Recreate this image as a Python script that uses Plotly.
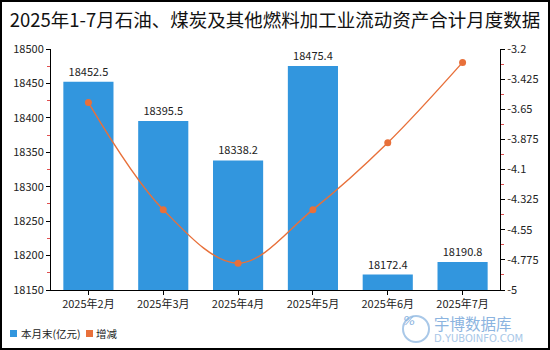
import plotly.graph_objects as go

# Monthly data: current month-end current assets and year-on-year change
months = ["2025年2月", "2025年3月", "2025年4月", "2025年5月", "2025年6月", "2025年7月"]
assets = [18452.5, 18395.5, 18338.2, 18475.4, 18172.4, 18190.8]
change = [-3.60, -4.40, -4.80, -4.40, -3.90, -3.30]

right_ticks = [-3.2, -3.425, -3.65, -3.875, -4.1, -4.325, -4.55, -4.775, -5]
right_tick_text = ["-3.2", "-3.425", "-3.65", "-3.875", "-4.1", "-4.325", "-4.55", "-4.775", "-5"]

legend_names = ["本月末(亿元)", "增减"]

BAR_COLOR = "#3296DE"
LINE_COLOR = "#E8703A"
FONT = "Noto Sans CJK SC"

fig = go.Figure()

fig.add_trace(go.Bar(
    x=months, y=assets, name=legend_names[0],
    marker=dict(color=BAR_COLOR, line=dict(width=0)),
    text=[f"{v:.1f}" for v in assets], textposition="outside",
    textfont=dict(size=11, color="#222222", family=FONT),
    cliponaxis=False, showlegend=False,
))

fig.add_trace(go.Scatter(
    x=months, y=change, yaxis="y2", mode="lines+markers",
    line=dict(color=LINE_COLOR, width=1.4, shape="spline", smoothing=1.0),
    marker=dict(color=LINE_COLOR, size=7),
    showlegend=False, name=legend_names[1],
))

# plot area geometry in pixels
L, R, T, B = 51, 50, 49, 60
W, H = 550, 350
pw, ph = W - L - R, H - T - B


def px(x):
    return (x - L) / pw


def py(y):
    return 1 - (y - T) / ph


fig.update_layout(
    width=W, height=H,
    margin=dict(l=L, r=R, t=T, b=B),
    paper_bgcolor="white", plot_bgcolor="white",
    font=dict(family=FONT, size=11, color="#222222"),
    title=dict(text="2025年1-7月石油、煤炭及其他燃料加工业流动资产合计月度数据",
               x=0.5, xanchor="center", y=1 - 21 / H, yanchor="middle",
               font=dict(size=18.5, color="#111111", family=FONT, weight=400)),
    bargap=0.33,
    showlegend=False,
    xaxis=dict(showline=True, linecolor="#000000", linewidth=1,
               ticks="outside", ticklen=4, tickcolor="#000000",
               tickfont=dict(size=11), showgrid=False, mirror=False),
    yaxis=dict(range=[18150, 18500], dtick=50, tick0=18150, tickformat="d",
               showline=True, linecolor="#000000", linewidth=1,
               ticks="outside", ticklen=4, tickcolor="#000000",
               showgrid=False, zeroline=False, tickfont=dict(size=11),
               minor=dict(ticks="outside", ticklen=3, tickcolor="#E05050", dtick=25)),
    yaxis2=dict(range=[-5, -3.2], overlaying="y", side="right",
                tickvals=right_ticks, ticktext=right_tick_text,
                showline=True, linecolor="#000000", linewidth=1,
                ticks="outside", ticklen=4, tickcolor="#000000",
                showgrid=False, zeroline=False, tickfont=dict(size=11),
                minor=dict(ticks="outside", ticklen=3, tickcolor="#E05050",
                           tickvals=[-3.3125, -3.5375, -3.7625, -3.9875,
                                     -4.2125, -4.4375, -4.6625, -4.8875])),
)

# outer frame around the whole chart
fig.add_shape(type="rect", xref="paper", yref="paper",
              x0=px(1), x1=px(W - 1), y0=py(H - 1), y1=py(1),
              line=dict(color="#000000", width=2), fillcolor="rgba(0,0,0,0)")

# legend: colour swatches followed by series names
legend_y = 333
for sx, tx, name, color in [(10, 20, legend_names[0], BAR_COLOR),
                            (86, 95, legend_names[1], LINE_COLOR)]:
    fig.add_shape(type="rect", xref="paper", yref="paper",
                  x0=px(sx), x1=px(sx + 7), y0=py(legend_y + 4), y1=py(legend_y - 3),
                  line=dict(width=0), fillcolor=color)
    fig.add_annotation(xref="paper", yref="paper", x=px(tx), y=py(legend_y),
                       xanchor="left", yanchor="middle", text=name, showarrow=False,
                       borderpad=0,
                       font=dict(size=10.5, color="#222222", family=FONT))

# brand mark in the bottom-right corner
cx, cy, r = 416, 329, 13
fig.add_shape(type="circle", xref="paper", yref="paper",
              x0=px(cx - r), x1=px(cx + r), y0=py(cy + r), y1=py(cy - r),
              line=dict(color="#A9C8E8", width=2), fillcolor="rgba(0,0,0,0)")
fig.add_annotation(xref="paper", yref="paper", x=px(cx), y=py(cy),
                   text="<i>%</i>", showarrow=False, borderpad=0,
                   font=dict(size=13, color="#8CB4E0", family="DejaVu Sans"))
fig.add_annotation(xref="paper", yref="paper", x=px(433), y=py(323),
                   xanchor="left", yanchor="middle", text="宇博数据库", showarrow=False,
                   borderpad=0,
                   font=dict(size=15.5, color="#8CB4E0", family=FONT))
fig.add_annotation(xref="paper", yref="paper", x=px(433), y=py(338),
                   xanchor="left", yanchor="middle", text="D.YUBOINFO.COM", showarrow=False,
                   borderpad=0,
                   font=dict(size=10, color="#A9C8E8", family="DejaVu Sans"))

fig.write_html("out.html")
